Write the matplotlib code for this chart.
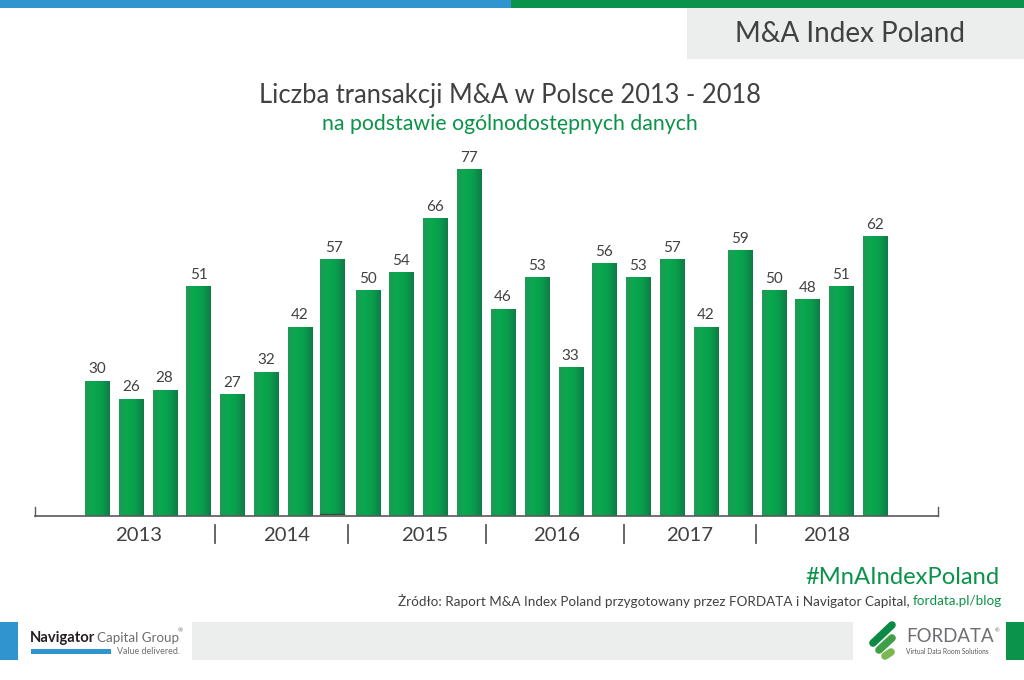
"""M&A Index Poland: number of M&A deals in Poland, half-yearly 2013-2018."""

import matplotlib

matplotlib.use("Agg")

import matplotlib.pyplot as plt
import numpy as np
from matplotlib.colors import LinearSegmentedColormap
from matplotlib.patches import Rectangle

DEALS = [30, 26, 28, 51, 27, 32, 42, 57, 50, 54, 66, 77, 46, 53, 33, 56, 53, 57, 42, 59, 50, 48, 51, 62]
YEARS = ["2013", "2014", "2015", "2016", "2017", "2018"]

TITLE = "Liczba transakcji M&A w Polsce 2013 - 2018"
SUBTITLE = "na podstawie ogólnodostępnych danych"
BADGE = "M&A Index Poland"
HASHTAG = "#MnAIndexPoland"
SOURCE = "Żródło: Raport M&A Index Poland przygotowany przez FORDATA i Navigator Capital, "
SOURCE_LINK = "fordata.pl/blog"

# layout, in reference pixels
YEAR_X = [139, 287, 425, 557, 690, 827]
SEPARATOR_X = [215, 348, 486, 624, 756]
FIRST_BAR_X = 97
BAR_STEP = 33.83
PX_PER_DEAL = 4.5
AXIS_LEFT, AXIS_RIGHT, AXIS_Y, AXIS_TOP = 35, 938, 516, 150
OUTLINED_BAR = 7  # this bar sits a touch off in the original, with a dark foot

BLUE = "#3094cf"
GREEN = "#0b9349"
GREY_BOX = "#eceeee"
DARK = "#414042"
LINE = "#58595b"
LOGO_GREY = "#6d6e71"

plt.rcParams["font.family"] = ["Lato", "DejaVu Sans"]

fig = plt.figure(figsize=(10.24, 6.8), dpi=100)

# page furniture in pixel coordinates
page = fig.add_axes([0, 0, 1, 1])
page.set_xlim(0, 1024)
page.set_ylim(680, 0)
page.axis("off")


def box(x0, y0, x1, y1, color):
    page.add_patch(Rectangle((x0, y0), x1 - x0, y1 - y0, facecolor=color, edgecolor="none"))


box(0, 0, 511, 8, BLUE)
box(511, 0, 1024, 8, GREEN)
box(687, 8, 1024, 59, GREY_BOX)
box(0, 622, 18, 660, BLUE)
box(192, 622, 853, 660, GREY_BOX)
box(1006, 622, 1024, 660, GREEN)

page.text(850, 34, BADGE, ha="center", va="center", fontsize=20, color=DARK)
page.text(510, 95, TITLE, ha="center", va="center", fontsize=18.4, color=DARK)
page.text(510, 124, SUBTITLE, ha="center", va="center", fontsize=15.3, color=GREEN)

page.text(999, 577, HASHTAG, ha="right", va="center", fontsize=17.1, color=GREEN)
link = page.text(1002, 601, SOURCE_LINK, ha="right", va="center", fontsize=9.7, color=GREEN)
fig.canvas.draw()
link_left = page.transData.inverted().transform(link.get_window_extent().get_points())[0, 0]
page.text(link_left, 601, SOURCE, ha="right", va="center", fontsize=9.7, color=DARK)

# Navigator logo
page.text(30, 638, "Navigator", ha="left", va="center", fontsize=10.6, fontweight="bold", color="#231f20")
page.text(97, 638, "Capital Group", ha="left", va="center", fontsize=9.6, color=LOGO_GREY)
page.text(178, 631, "®", ha="left", va="center", fontsize=4.5, color=LOGO_GREY)
box(31, 649, 111, 654, BLUE)
page.text(180, 651, "Value delivered.", ha="right", va="center", fontsize=6.4, color=LOGO_GREY)

# Fordata logo
page.plot([873, 892], [643, 625], color="#0b8a45", lw=5.5, solid_capstyle="round")
page.plot([879, 892], [650, 638], color="#3f9f48", lw=5.5, solid_capstyle="round")
page.plot([885, 891], [656, 652], color="#7cb851", lw=5.5, solid_capstyle="round")
page.text(906, 637, "FORDATA", ha="left", va="center", fontsize=13.4, color=LOGO_GREY)
page.text(995, 631, "®", ha="left", va="center", fontsize=4, color=LOGO_GREY)
page.text(906, 652, "Virtual Data Room Solutions", ha="left", va="center", fontsize=4.8, color=LINE)

# bar chart
ax = fig.add_axes([
    AXIS_LEFT / 1024,
    (680 - AXIS_Y) / 680,
    (AXIS_RIGHT - AXIS_LEFT) / 1024,
    (AXIS_Y - AXIS_TOP) / 680,
])
ax.patch.set_alpha(0)
xlim = ((AXIS_LEFT - FIRST_BAR_X) / BAR_STEP, (AXIS_RIGHT - FIRST_BAR_X) / BAR_STEP)
ylim = (0, (AXIS_Y - AXIS_TOP) / PX_PER_DEAL)

bar_cmap = LinearSegmentedColormap.from_list("bar", ["#1f9a55", "#08a94f", "#0a9d4c", "#0e7c47"])
gradient = np.linspace(0, 1, 64).reshape(1, -1)
x = np.arange(len(DEALS))
bars = ax.bar(x, DEALS, width=0.71, color="none", edgecolor="none")
for i, (bar, value) in enumerate(zip(bars, DEALS)):
    left = bar.get_x()
    right = left + bar.get_width()
    bottom = 0
    if i == OUTLINED_BAR:
        left -= 0.06
        right -= 0.06
        bottom = 0.4
        ax.plot([left, right], [bottom, bottom], color="#2f4f3a", lw=1, zorder=3)
    ax.imshow(gradient, cmap=bar_cmap, aspect="auto", extent=(left, right, bottom, value), zorder=2)
    ax.annotate(
        str(value),
        (bar.get_x() + bar.get_width() / 2, value),
        xytext=(0, 8.5),
        textcoords="offset points",
        ha="center",
        va="center",
        fontsize=11,
        color=DARK,
    )

ax.set_xlim(xlim)
ax.set_ylim(ylim)
ax.set_xticks([])
ax.set_yticks([])
for side in ("top", "left", "right"):
    ax.spines[side].set_visible(False)
ax.spines["bottom"].set_color(LINE)
ax.spines["bottom"].set_linewidth(1.2)
ax.spines["bottom"].set_zorder(3)

# end ticks and year labels under the axis
page.plot([AXIS_LEFT, AXIS_LEFT], [507, AXIS_Y], color=LINE, lw=1)
page.plot([AXIS_RIGHT, AXIS_RIGHT], [507, AXIS_Y], color=LINE, lw=1)
for year, year_x in zip(YEARS, YEAR_X):
    page.text(year_x, 535.5, year, ha="center", va="center", fontsize=14.6, color=DARK)
for sep_x in SEPARATOR_X:
    page.plot([sep_x, sep_x], [525, 543], color=LINE, lw=1.3)

fig.savefig("out.png", dpi=100)
